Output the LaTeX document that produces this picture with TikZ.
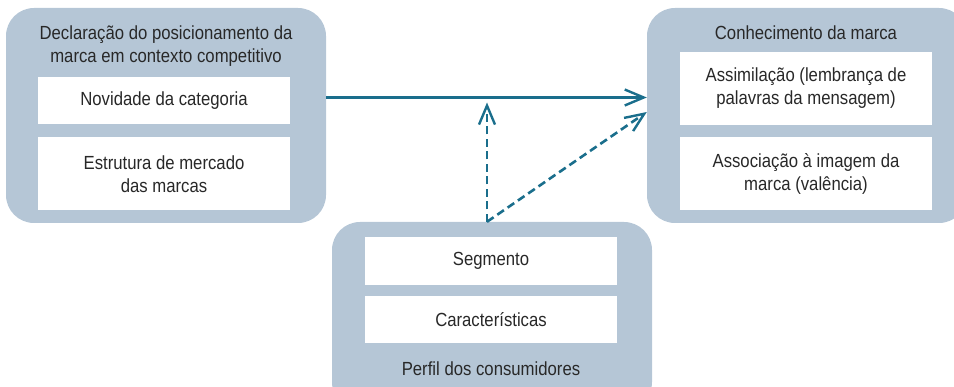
\documentclass[tikz,border=0pt]{standalone}
\usepackage{fontspec}
\setmainfont{Liberation Sans}[FakeStretch=0.88]
\usepackage{xcolor}
\usetikzlibrary{positioning,arrows.meta}
\definecolor{boxblue}{RGB}{181,198,214}
\definecolor{flowteal}{RGB}{26,110,140}
\definecolor{inkgray}{RGB}{40,40,40}

\begin{document}
\begin{tikzpicture} [x=1pt, y=-1pt,
            font=\fontsize{19}{23}\selectfont, text=inkgray,
            panel/.style={rectangle, fill=boxblue, rounded corners=28pt, minimum width=320pt, inner sep=0pt},
            item/.style={rectangle, fill=white, minimum width=252pt, align=center, inner sep=0pt},
            title/.style={align=center, inner sep=0pt},
            flow/.style={draw=flowteal, line width=2.4pt, -{Straight Barb[length=19pt, width=16pt, line width=2.4pt]}},
            flowdash/.style={flow, line width=2.6pt, dash pattern=on 8pt off 4.5pt},]
        \useasboundingbox (0,0) rectangle (954,387);
        % panels
        \node[panel, minimum height=215pt](decl) at (166,115.5){};
        \node[panel, minimum height=215pt](know) at (807,115.5){};
        \node[panel, minimum height=188pt](prof) at (492,316){};
        % left panel
        \node[title](t1) at (166,46){Declaração do posicionamento da\\marca em contexto competitivo};
        \node[item, minimum height=47pt](nov) at (164,100.5){Novidade da categoria};
        \node[item, minimum height=73pt](est)[below=13pt of nov]{Estrutura de mercado\\das marcas};
        % right panel
        \node[title](t2) at (806,33){Conhecimento da marca};
        \node[item, minimum height=73pt](assim) at (806,88.5){Assimilação (lembrança de\\palavras da mensagem)};
        \node[item, minimum height=73pt](assoc)[below=12pt of assim]{Associação à imagem da\\marca (valência)};
        % bottom panel
        \node[item, minimum height=48pt](seg) at (491,261){Segmento};
        \node[item, minimum height=47pt](car)[below=11pt of seg]{Características};
        \node[title](t3) at (491,369){Perfil dos consumidores};
        % connectors
        \coordinate (fork) at (487,0 |- prof.north);
        \coordinate (hit) at (487,102.5);
        \draw[flow] (decl.east |- 0,97.5) -- (know.west |- 0,97.5);
        \draw[flowdash] (fork) -- (hit);
        \draw[flowdash] (fork) -- (know.west |- 0,112);
    \end{tikzpicture}
\end{document}
